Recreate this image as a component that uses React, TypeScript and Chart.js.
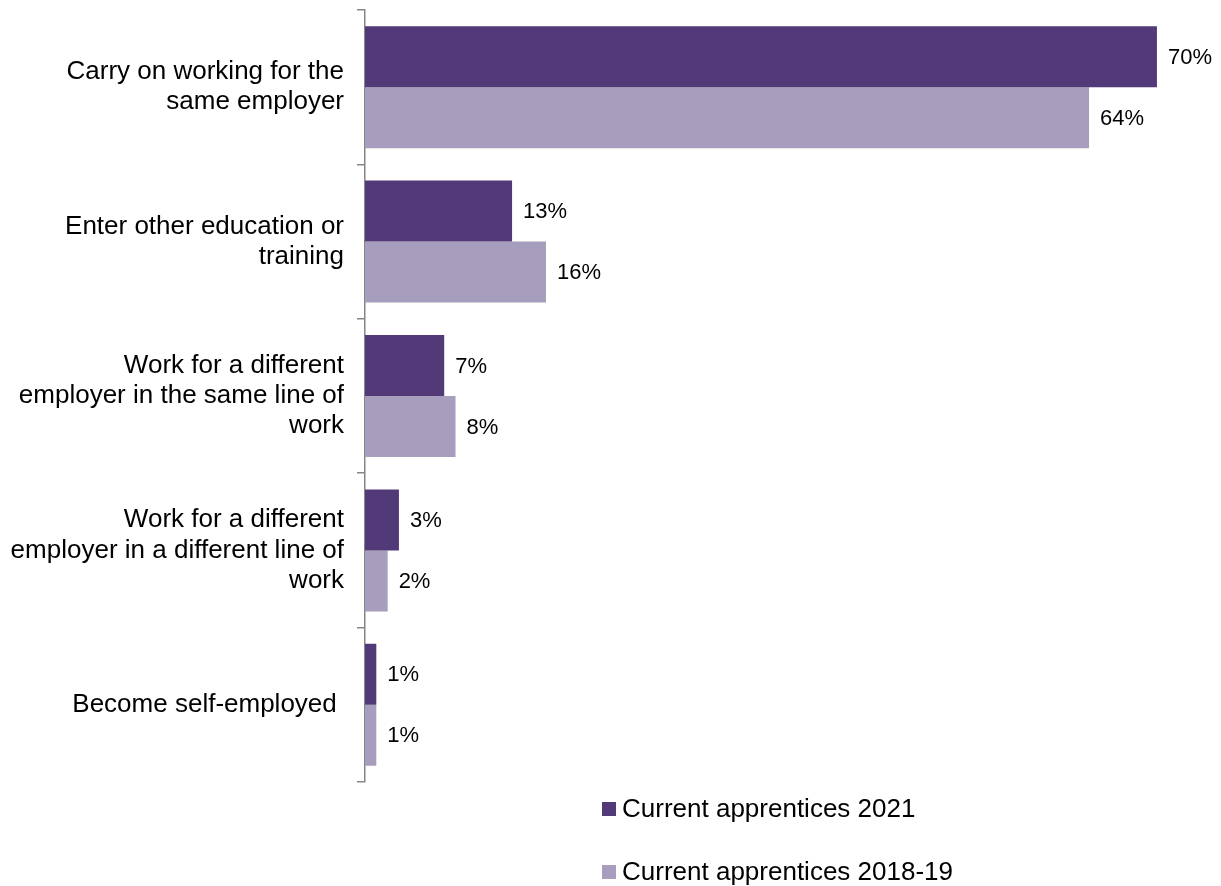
import React, { useEffect, useRef } from "react";
import { Chart, registerables } from "chart.js";

Chart.register(...registerables);

const categories: string[][] = [
  ["Carry on working for the", "same employer"],
  ["Enter other education or", "training"],
  ["Work for a different", "employer in the same line of", "work"],
  ["Work for a different", "employer in a different line of", "work"],
  ["Become self-employed "],
];
const series2021: number[] = [70, 13, 7, 3, 1];
const series2018: number[] = [64, 16, 8, 2, 1];
const seriesNames: string[] = ["Current apprentices 2021", "Current apprentices 2018-19"];
const colors: string[] = ["#523977", "#A79DBD"];

const FONT = "'Liberation Sans', Arial, sans-serif";

const valueLabels = {
  id: "valueLabels",
  afterDatasetsDraw(chart: any) {
    const ctx = chart.ctx;
    ctx.save();
    ctx.font = `22px ${FONT}`;
    ctx.fillStyle = "#000";
    ctx.textAlign = "left";
    ctx.textBaseline = "middle";
    chart.data.datasets.forEach((ds: any, i: number) => {
      const meta = chart.getDatasetMeta(i);
      meta.data.forEach((bar: any, j: number) => {
        ctx.fillText(`${ds.data[j]}%`, bar.x + 11, bar.y + 1);
      });
    });
    ctx.restore();
  },
};

const customLegend = {
  id: "customLegend",
  afterDraw(chart: any) {
    const ctx = chart.ctx;
    ctx.save();
    ctx.font = `26px ${FONT}`;
    ctx.textAlign = "left";
    ctx.textBaseline = "middle";
    const ys = [809, 872];
    chart.data.datasets.forEach((ds: any, i: number) => {
      ctx.fillStyle = ds.backgroundColor;
      ctx.fillRect(602, ys[i] - 7, 14, 14);
      ctx.fillStyle = "#000";
      ctx.fillText(ds.label, 622, ys[i] + 1);
    });
    ctx.restore();
  },
};

export default function App() {
  const ref = useRef<HTMLCanvasElement>(null);
  useEffect(() => {
    let chart: any = null;
    let cancelled = false;
    const make = () => {
      if (cancelled || !ref.current) return;
      chart = new Chart(ref.current, {
        type: "bar",
        data: {
          labels: categories,
          datasets: [
            { label: seriesNames[0], data: series2021, backgroundColor: colors[0], categoryPercentage: 0.79, barPercentage: 1 },
            { label: seriesNames[1], data: series2018, backgroundColor: colors[1], categoryPercentage: 0.79, barPercentage: 1 },
          ],
        },
        options: {
          indexAxis: "y",
          animation: false,
          responsive: false,
          maintainAspectRatio: false,
          layout: { padding: { top: 10, bottom: 104, left: 0, right: 7.5 } },
          plugins: { legend: { display: false }, tooltip: { enabled: false } },
          scales: {
            x: { display: false, min: 0, max: 75 },
            y: {
              afterFit(scale: any) {
                scale.width = 365;
                scale.paddingTop = 0;
                scale.paddingBottom = 0;
              },
              border: { display: true, color: "#868686", width: 1.5 },
              grid: {
                offset: true,
                drawOnChartArea: false,
                drawTicks: true,
                tickLength: 8,
                color: "#868686",
                lineWidth: 1.5,
              },
              ticks: {
                color: "#000",
                padding: 13,
                font: { family: FONT, size: 26, lineHeight: 1.16 },
              },
            },
          },
        },
        plugins: [valueLabels, customLegend],
      });
    };
    Promise.all([
      document.fonts.load(`22px 'Liberation Sans'`),
      document.fonts.load(`26px 'Liberation Sans'`),
    ])
      .catch(() => null)
      .then(make);
    return () => {
      cancelled = true;
      if (chart) chart.destroy();
    };
  }, []);
  return (
    <div style={{ position: "absolute", left: 0, top: 0, width: 1221, height: 886, background: "#fff" }}>
      <canvas ref={ref} width={1221} height={886} style={{ display: "block" }} />
    </div>
  );
}
